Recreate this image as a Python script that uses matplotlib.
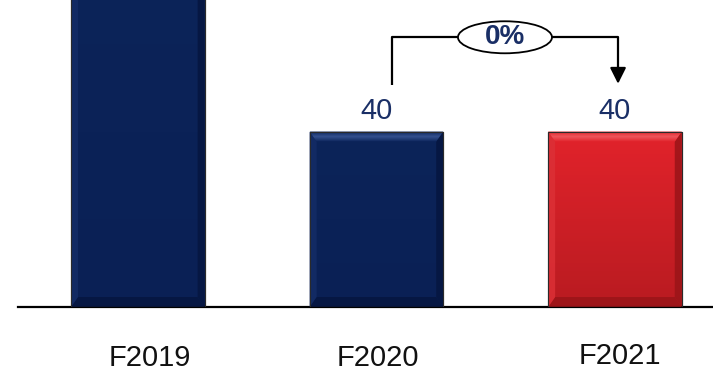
import numpy as np
import matplotlib.pyplot as plt
import matplotlib.transforms as mtransforms
from matplotlib.patches import Polygon, Ellipse
from matplotlib.colors import LinearSegmentedColormap

plt.rcParams['font.family'] = ['Liberation Sans', 'DejaVu Sans']

# data
years = ['F2019', 'F2020', 'F2021']
values = [80, 40, 40]          # F2019 runs off the top of the chart
change_label = '0%'

# styles
NAVY = '#0b2257'
RED = '#d71f27'
bar_colors = [NAVY, NAVY, RED]
grad = {NAVY: ('#0c2459', '#0a2055'), RED: ('#e2232b', '#b91b21')}
light = {NAVY: '#34508e', RED: '#ee555b'}
dark = {NAVY: '#061640', RED: '#9a1418'}
side = {NAVY: '#142c66', RED: '#dc3036'}
TXT = '#1a2f66'

fig = plt.figure(figsize=(7.13, 3.72), dpi=100)
ax = fig.add_axes([0.025, 0.1747, 0.975, 0.8253])
xs = list(range(len(years)))
ax.set_xlim(-0.503, 2.411)
ax.set_ylim(0, 70)

bars = ax.bar(xs, values, width=0.56, color=bar_colors,
              edgecolor='#2a2a2a', linewidth=0.8, zorder=2)

# bevel look: px -> data
px_x = 1 / 238.5
px_y = 70 / 307
for b, c in zip(bars, bar_colors):
    x0, w, h = b.get_x(), b.get_width(), b.get_height()
    # vertical gradient fill
    cmap = LinearSegmentedColormap.from_list('g', [grad[c][1], grad[c][0]])
    img = ax.imshow(np.linspace(0, 1, 64).reshape(-1, 1), cmap=cmap, origin='lower',
                    extent=[x0, x0 + w, 0, h], aspect='auto', zorder=2.5)
    img.set_clip_path(b)
    bx, by = 7 * px_x, 10 * px_y
    top = [(x0, h), (x0 + w, h), (x0 + w - bx, h - by), (x0 + bx, h - by)]
    right = [(x0 + w, h), (x0 + w, 0), (x0 + w - bx, by), (x0 + w - bx, h - by)]
    bottom = [(x0, 0), (x0 + w, 0), (x0 + w - bx, by), (x0 + bx, by)]
    left = [(x0, h), (x0, 0), (x0 + bx, by), (x0 + bx, h - by)]
    for pts, col in [(right, dark[c]), (bottom, dark[c]), (left, side[c])]:
        ax.add_patch(Polygon(pts, closed=True, facecolor=col, edgecolor='none',
                             zorder=3, alpha=0.85))
    tp = Polygon(top, closed=True, facecolor='none', edgecolor='none', zorder=3)
    ax.add_patch(tp)
    tcm = LinearSegmentedColormap.from_list('t', [grad[c][0], light[c], grad[c][0]])
    timg = ax.imshow(np.linspace(0, 1, 32).reshape(-1, 1), cmap=tcm, origin='lower',
                     extent=[x0, x0 + w, h - by, h], aspect='auto', zorder=3.1)
    timg.set_clip_path(tp)
    ax.add_patch(Polygon([(x0, h), (x0 + w, h), (x0 + w, 0), (x0, 0)], closed=True,
                         fill=False, edgecolor='#2a2a2a', linewidth=0.8, zorder=4))
    # value label
    if h < ax.get_ylim()[1]:
        ax.text(b.get_x() + w / 2, h + 2.8, f'{h:g}', ha='center', va='baseline',
                fontsize=21, color=TXT, zorder=5)

# category labels below baseline
trans = mtransforms.blended_transform_factory(ax.transData, fig.transFigure)
label_nudge = [0.05, 0.005, 0.02]
label_y = [0.016, 0.016, 0.021]
for x, lab, dx, fy in zip(xs, years, label_nudge, label_y):
    ax.text(x + dx, fy, lab, ha='center', va='baseline', fontsize=21,
            color='#111111', transform=trans)

# change bracket between F2020 and F2021
x1 = xs[1] + 0.065
x2 = xs[2] + 0.013
y_low = values[1] + 10.6
y_top = 61.5
xm = (x1 + x2) / 2
ew, eh = 0.394, 7.3
ax.plot([x1, x1, xm - ew / 2], [y_low, y_top, y_top], color='black', lw=1.6,
        zorder=5, clip_on=False, solid_capstyle='butt')
ax.plot([xm + ew / 2, x2, x2], [y_top, y_top, values[2] + 14], color='black', lw=1.6,
        zorder=5, clip_on=False, solid_capstyle='butt')
ax.annotate('', xy=(x2, values[2] + 10.9), xytext=(x2, values[2] + 14.5),
            arrowprops=dict(arrowstyle='-|>', color='black', lw=1.6,
                            mutation_scale=24, shrinkA=0, shrinkB=0), zorder=5)
ax.add_patch(Ellipse((xm, y_top), ew, eh, facecolor='white', edgecolor='black',
                     lw=1.3, zorder=6))
ax.text(xm, y_top, change_label, ha='center', va='center', fontsize=20,
        fontweight='bold', color=TXT, zorder=7)

for s in ['top', 'right', 'left']:
    ax.spines[s].set_visible(False)
ax.spines['bottom'].set_linewidth(1.6)
ax.spines['bottom'].set_color('black')
ax.set_xticks([])
ax.set_yticks([])

fig.savefig('out.png', dpi=100)
